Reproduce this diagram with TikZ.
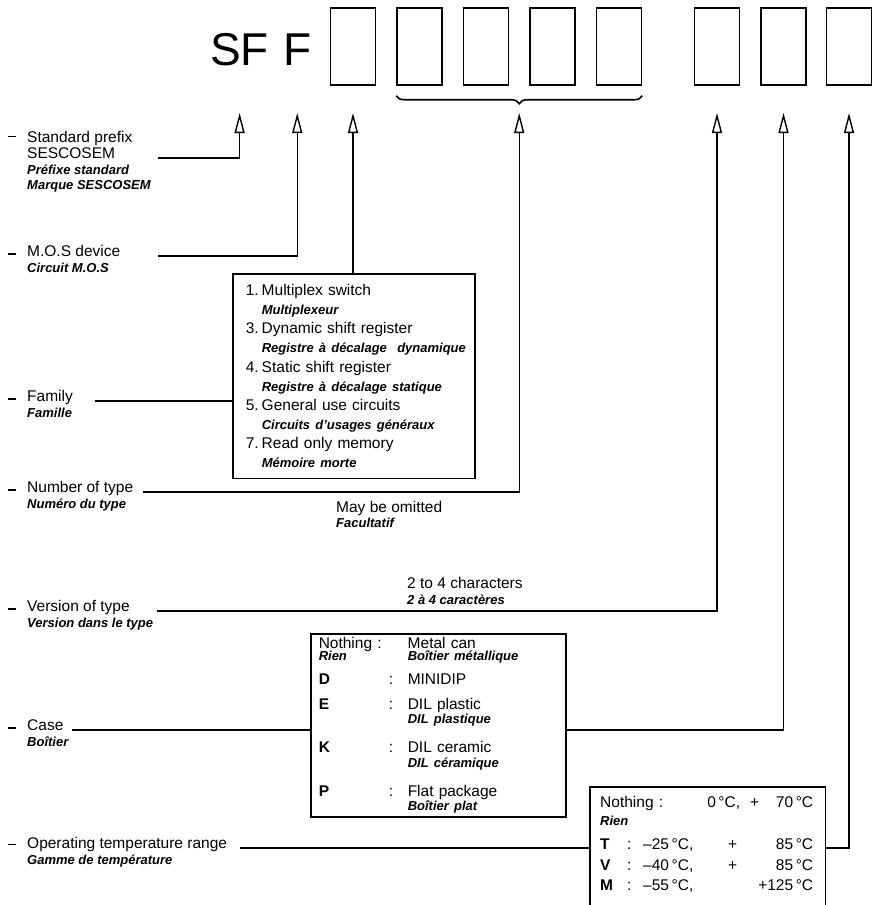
\documentclass[tikz,border=0pt]{standalone}
\usepackage{fontspec}
\setmainfont{Liberation Sans}
\usetikzlibrary{arrows.meta, calc, decorations.pathreplacing}

\newcommand{\frtext}{\fontsize{13}{15}\selectfont\bfseries\itshape}
\newcommand{\labeldash}[1][1.5pt]{\rule[#1]{8pt}{1.4pt}\hspace{11pt}}

\begin{document}
\begin{tikzpicture}[x=1pt, y=-1pt,
    digit/.style={draw, line width=1.5pt, minimum width=45pt, minimum height=77pt, inner sep=0pt},
    en/.style={anchor=base west, inner sep=0pt, font=\fontsize{15.5}{18}\selectfont},
    fr/.style={anchor=base west, inner sep=0pt, font=\frtext},
    listbox/.style={draw, line width=1.5pt, anchor=north west, align=left},
    link/.style={line width=1.4pt},
    conn/.style={link, -{Triangle[open, length=20pt, width=10pt]}}]
  \useasboundingbox (0,0) rectangle (872,905);

  % Type number
  \node[anchor=base west, inner sep=0pt, font=\fontsize{46}{50}\selectfont] (sf) at (210,65) {SF};
  \node[anchor=base west, inner sep=0pt, font=\fontsize{46}{50}\selectfont] (ff) at (283,65) {F};
  \node[digit] (b1) at (353,46.5) {};
  \node[digit] (b2) at (419.5,46.5) {};
  \node[digit] (b3) at (486,46.5) {};
  \node[digit] (b4) at (552.5,46.5) {};
  \node[digit] (b5) at (619,46.5) {};
  \node[digit] (b6) at (717,46.5) {};
  \node[digit] (b7) at (783.5,46.5) {};
  \node[digit] (b8) at (849,46.5) {};

  % Brace under the number digits
  \draw[line width=1.6pt, decorate, decoration={brace, mirror, amplitude=8pt}]
    ([yshift=-10pt]b2.south west) -- ([yshift=-10pt]b5.south east);
  \coordinate (bt) at ($(b2.south west)!0.5!(b5.south east)$);
  \coordinate (arw) at (0,113);
  \coordinate (floor) at (0,910);

  % Left column
  \node[en] (lpfx) at (8,142) {\labeldash[5pt]Standard prefix};
  \node[en] (lpfx2) at (27,158) {SESCOSEM};
  \node[fr] (lpfx3) at (27,174) {Préfixe standard};
  \node[fr] (lpfx4) at (27,189) {Marque SESCOSEM};

  \node[en] (lmos) at (8,256) {\labeldash M.O.S device};
  \node[fr] (lmos2) at (27,272) {Circuit M.O.S};

  \node[en] (lfam) at (8,401) {\labeldash Family};
  \node[fr] (lfam2) at (27,417) {Famille};

  \node[en] (lnum) at (8,492) {\labeldash Number of type};
  \node[fr] (lnum2) at (27,508) {Numéro du type};

  \node[en] (lver) at (8,611) {\labeldash Version of type};
  \node[fr] (lver2) at (27,627) {Version dans le type};

  \node[en] (lcase) at (8,730) {\labeldash Case};
  \node[fr] (lcase2) at (27,746) {Boîtier};

  \node[en] (ltemp) at (8,848) {\labeldash[3pt]Operating temperature range};
  \node[fr] (ltemp2) at (27,864) {Gamme de température};

  % Family list
  \node[listbox, inner xsep=13pt, inner ysep=10.5pt, text width=216pt,
        font=\fontsize{15.5}{19.15}\selectfont] (famtab) at (232,273) {
    \makebox[16pt][l]{1.}Multiplex switch\\
    \hspace*{16pt}\mbox{\frtext Multiplexeur}\\
    \makebox[16pt][l]{3.}Dynamic shift register\\
    \hspace*{16pt}\mbox{\frtext Registre à décalage\ \ dynamique}\\
    \makebox[16pt][l]{4.}Static shift register\\
    \hspace*{16pt}\mbox{\frtext Registre à décalage statique}\\
    \makebox[16pt][l]{5.}General use circuits\\
    \hspace*{16pt}\mbox{\frtext Circuits d’usages généraux}\\
    \makebox[16pt][l]{7.}Read only memory\\
    \hspace*{16pt}\mbox{\frtext Mémoire morte}
  };

  % Notes on the connectors
  \node[en] (omit) at (336,512) {May be omitted};
  \node[fr] (omit2) at (336,527) {Facultatif};
  \node[en] (chars) at (407,588) {2 to 4 characters};
  \node[fr] (chars2) at (407,604) {2 à 4 caractères};

  % Case list
  \node[listbox, inner xsep=8pt, inner ysep=3.5pt, text width=239pt,
        font=\fontsize{15.5}{14.5}\selectfont] (casetab) at (310,633) {
    \makebox[89pt][l]{Nothing :}Metal can\\[-2pt]
    \makebox[89pt][l]{\frtext Rien}{\frtext Boîtier métallique}\\[9pt]
    \makebox[70pt][l]{\bfseries D}\makebox[19pt][l]{:}MINIDIP\\[10.5pt]
    \makebox[70pt][l]{\bfseries E}\makebox[19pt][l]{:}DIL plastic\\
    \hspace*{89pt}{\frtext DIL plastique}\\[14.5pt]
    \makebox[70pt][l]{\bfseries K}\makebox[19pt][l]{:}DIL ceramic\\
    \hspace*{89pt}{\frtext DIL céramique}\\[14.5pt]
    \makebox[70pt][l]{\bfseries P}\makebox[19pt][l]{:}Flat package\\
    \hspace*{89pt}{\frtext Boîtier plat}
  };

  % Temperature list, open at the bottom
  \node[anchor=north west, align=left, inner xsep=10pt, inner ysep=8.7pt, text width=215pt,
        font=\fontsize{15.5}{18}\selectfont] (temptab) at (590,787) {
    \makebox[213pt]{Nothing :\hfill 0\,°C,\hspace{10pt}\makebox[63pt]{+\hfill 70\,°C}}\\
    {\frtext Rien}\\[6pt]
    \makebox[213pt]{\makebox[27pt][l]{\bfseries T}\makebox[16pt][l]{:}–25\,°C,\hfill\makebox[85pt]{+\hfill 85\,°C}}\\[3.5pt]
    \makebox[213pt]{\makebox[27pt][l]{\bfseries V}\makebox[16pt][l]{:}–40\,°C,\hfill\makebox[85pt]{+\hfill 85\,°C}}\\[2pt]
    \makebox[213pt]{\makebox[27pt][l]{\bfseries M}\makebox[16pt][l]{:}–55\,°C,\hfill\makebox[85pt][r]{+125\,°C}}
  };
  \draw[line width=1.5pt] (temptab.north west |- floor) -- (temptab.north west)
    -- (temptab.north east) -- (temptab.north east |- floor);

  % Connectors
  \coordinate (s1) at (158,158);
  \coordinate (s2) at (158,256);
  \coordinate (s3) at (95,401);
  \coordinate (s4) at (143,492);
  \coordinate (s5) at (157,611);
  \coordinate (s6) at (72,730);
  \coordinate (s7) at (240,848);

  \draw[conn] (s1) -| (sf |- arw);
  \draw[conn] (s2) -| (ff |- arw);
  \draw[link] (s3) -- (famtab.west |- s3);
  \draw[conn] (famtab.north -| b1) -- (b1 |- arw);
  \draw[conn] (s4) -| (bt |- arw);
  \draw[conn] (s5) -| (b6 |- arw);
  \draw[link] (s6) -- (casetab.west |- s6);
  \draw[conn] (casetab.east |- s6) -| (b7 |- arw);
  \draw[link] (s7) -- (temptab.west |- s7);
  \draw[conn] (temptab.east |- s7) -| (b8 |- arw);
\end{tikzpicture}
\end{document}
